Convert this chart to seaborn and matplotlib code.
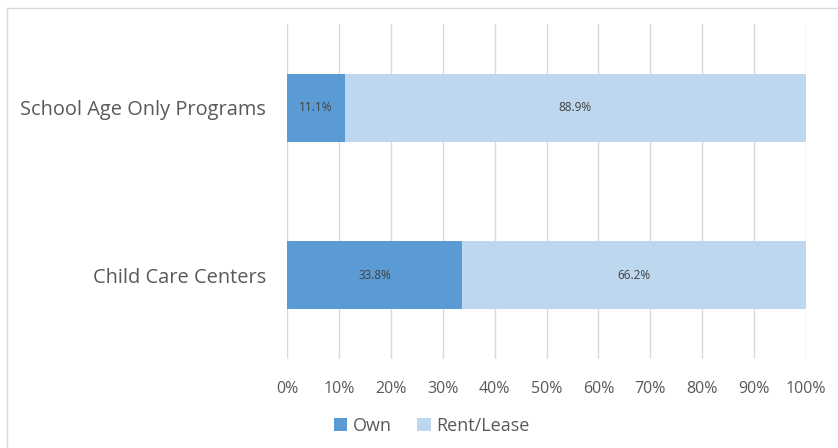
import pandas as pd
import seaborn as sns
import matplotlib.pyplot as plt
from matplotlib.patches import Rectangle

categories = ['School Age Only Programs', 'Child Care Centers']
own = [11.1, 33.8]
rent_lease = [88.9, 66.2]

df = pd.DataFrame({'category': categories, 'Own': own, 'Rent/Lease': rent_lease})
df['total'] = df['Own'] + df['Rent/Lease']

own_color = '#5B9BD5'
rent_color = '#BDD7EE'
text_color = '#595959'

sns.set_style('white')
plt.rcParams['font.family'] = ['Open Sans', 'DejaVu Sans']

fig = plt.figure(figsize=(8.38, 4.48), dpi=100)
ax = fig.add_axes([0.3425, 0.199, 0.6193, 0.7474])

sns.barplot(df, y='category', x='total', color=rent_color, width=0.405, saturation=1,
            linewidth=0, orient='h', ax=ax, label='Rent/Lease', zorder=2)
sns.barplot(df, y='category', x='Own', color=own_color, width=0.405, saturation=1,
            linewidth=0, orient='h', ax=ax, label='Own', zorder=3)
if ax.get_legend() is not None:
    ax.get_legend().remove()

for i, row in df.iterrows():
    ax.text(row['Own'] / 2, i, f"{row['Own']:.1f}%", ha='center', va='center',
            fontsize=8.5, color='#404040', zorder=4)
    ax.text(row['Own'] + row['Rent/Lease'] / 2, i, f"{row['Rent/Lease']:.1f}%",
            ha='center', va='center', fontsize=8.5, color='#404040', zorder=4)

ax.set_xlim(0, 100)
ax.set_ylim(1.5, -0.5)
ax.set_xticks(range(0, 101, 10))
ax.set_xticklabels([f'{t}%' for t in range(0, 101, 10)])
ax.xaxis.grid(True, color='#D9D9D9', linewidth=1, zorder=0)
ax.set_axisbelow(True)
ax.tick_params(axis='x', labelsize=11.5, colors=text_color, length=0, pad=16)
ax.tick_params(axis='y', labelsize=14.4, colors=text_color, length=0, pad=15)
ax.set_xlabel('')
ax.set_ylabel('')
sns.despine(ax=ax, left=True, bottom=True)

handles, labels = ax.get_legend_handles_labels()
order = [labels.index('Own'), labels.index('Rent/Lease')]
leg = fig.legend([handles[k] for k in order], [labels[k] for k in order],
                 loc='center', bbox_to_anchor=(0.515, 0.05), ncol=2, frameon=False,
                 fontsize=13, handlelength=0.75, handleheight=0.75,
                 handletextpad=0.3, columnspacing=1.4)
for t in leg.get_texts():
    t.set_color(text_color)

fig.patches.append(Rectangle((0.008, -0.01), 1.1, 0.992, transform=fig.transFigure,
                             fill=False, edgecolor='#D9D9D9', linewidth=1))

plt.savefig('out.png', dpi=100)
plt.close()
